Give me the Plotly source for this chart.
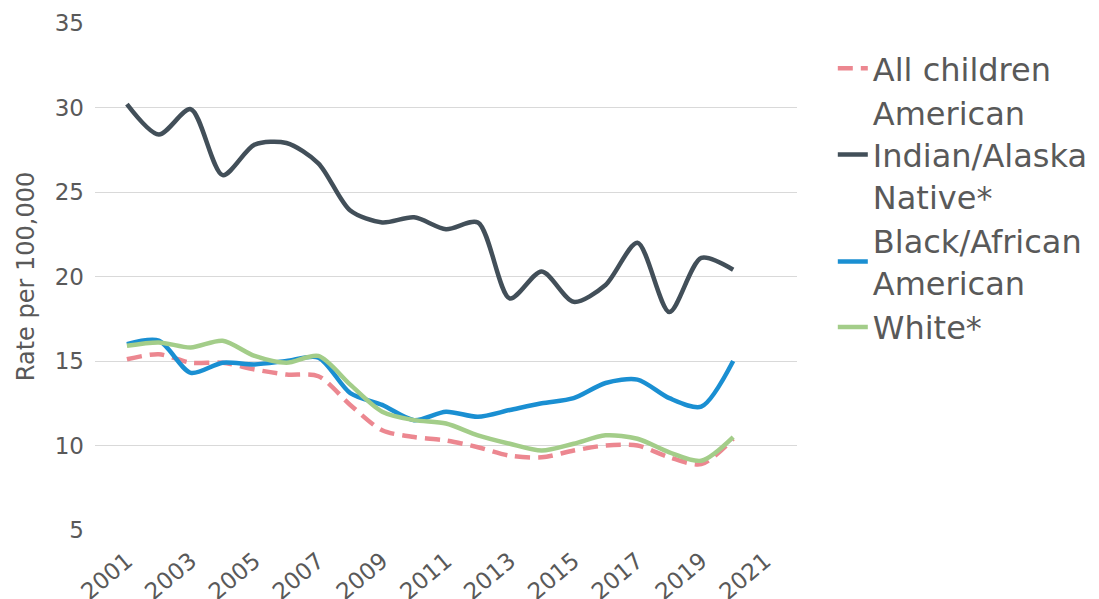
import plotly.graph_objects as go

years = list(range(2001, 2021))
all_children = [15.1, 15.4, 14.9, 14.9, 14.5, 14.2, 14.1, 12.4, 10.9, 10.5,
                10.3, 9.9, 9.4, 9.3, 9.7, 10.0, 10.0, 9.3, 8.9, 10.4]
aian = [30.2, 28.4, 29.9, 26.0, 27.8, 27.9, 26.7, 23.9, 23.2, 23.5,
        22.8, 23.2, 18.7, 20.3, 18.5, 19.5, 22.0, 17.9, 21.1, 20.4]
black = [16.0, 16.2, 14.3, 14.9, 14.8, 15.0, 15.2, 13.1, 12.4, 11.5,
         12.0, 11.7, 12.1, 12.5, 12.8, 13.7, 13.9, 12.8, 12.3, 15.0]
white = [15.9, 16.1, 15.8, 16.2, 15.3, 14.9, 15.3, 13.6, 12.0, 11.5,
         11.3, 10.6, 10.1, 9.7, 10.1, 10.6, 10.4, 9.6, 9.1, 10.5]
tick_years = list(range(2001, 2022, 2))
y_ticks = [5, 10, 15, 20, 25, 30, 35]

names = ["All children", "American<br>Indian/Alaska<br>Native*",
         "Black/African<br>American", "White*"]
series = [all_children, aian, black, white]
colors = ["#EC8790", "#424F59", "#1A8FD2", "#A3CD89"]
dashes = ["15px,8px", "solid", "solid", "solid"]

fig = go.Figure()
for nm, vals, c, d in zip(names, series, colors, dashes):
    fig.add_trace(go.Scatter(
        x=years, y=vals, name=nm, mode="lines",
        line=dict(color=c, width=4.5, dash=d, shape="spline", smoothing=0.8),
    ))

font_fam = "DejaVu Sans, Liberation Sans, Arial, sans-serif"
fig.update_layout(
    width=1091, height=591,
    margin=dict(l=87, r=302, t=15, b=69, autoexpand=False),
    paper_bgcolor="white", plot_bgcolor="white",
    font=dict(family=font_fam, color="#595959", size=23),
    showlegend=True,
    legend=dict(x=1.051, y=0.9645, xanchor="left", yanchor="top",
                font=dict(size=32, color="#595959"),
                tracegroupgap=0, itemwidth=30, valign="middle",
                bgcolor="rgba(0,0,0,0)"),
    xaxis=dict(range=[2000, 2022], tickmode="array", tickvals=tick_years,
               ticktext=[str(t) for t in tick_years], tickangle=-40,
               showgrid=False, zeroline=False, showline=False,
               automargin=False,
               tickfont=dict(size=23, color="#595959"), ticks="",
               ticklabelstandoff=12),
    yaxis=dict(range=[5, 35], tickmode="array", tickvals=y_ticks,
               showgrid=True, gridcolor="#D9D9D9", gridwidth=1,
               zeroline=False, showline=False, ticks="",
               automargin=False,
               tickfont=dict(size=23, color="#595959"),
               ticklabelstandoff=10,
               title=dict(text="Rate per 100,000", standoff=13,
                          font=dict(size=24, color="#595959"))),
)

fig.write_html("out.html")
